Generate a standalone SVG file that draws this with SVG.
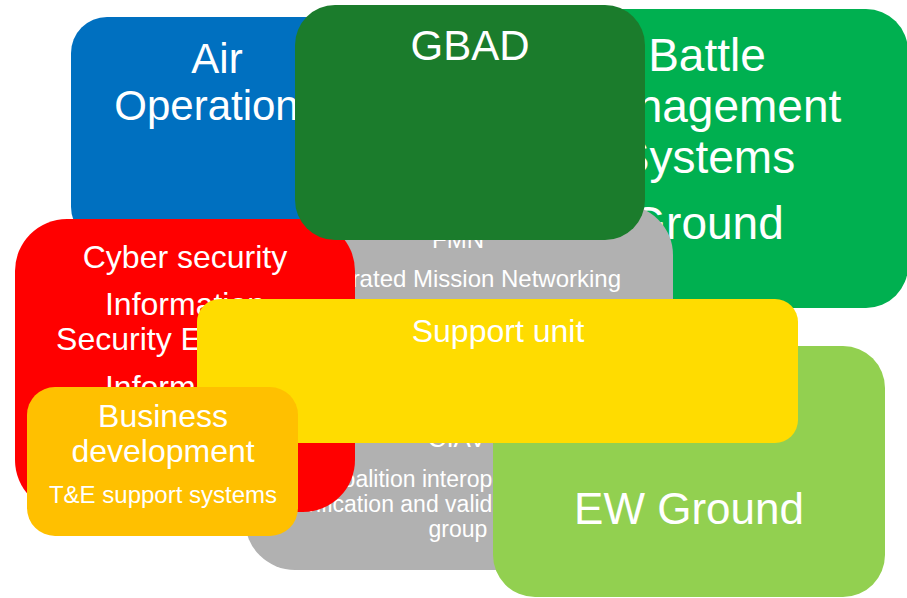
<svg xmlns="http://www.w3.org/2000/svg" width="907" height="598" viewBox="0 0 907 598">
<style>
text{font-family:"Liberation Sans",Arial,sans-serif;fill:#ffffff;text-anchor:middle}
.t46{font-size:46px}.t44{font-size:44px}.t42{font-size:42px}.t32{font-size:32px}.t24{font-size:24px}.t23{font-size:23px}.t26{font-size:26px}
.s{text-anchor:start}
</style>
<rect width="907" height="598" fill="#ffffff"/>
<g id="battle-management">
<rect x="507" y="9" width="401" height="299" rx="42" fill="#00B050"/>
<text class="t46" x="707" y="71">Battle</text>
<text class="t46" x="707" y="122">Management</text>
<text class="t46" x="707" y="173">Systems</text>
<text class="t46" x="707" y="239">Ground</text>
</g>
<g id="fmn-ciav">
<rect x="245" y="205" width="428" height="365" rx="50" fill="#B1B1B1"/>
<text class="t24" x="458" y="248">FMN</text>
<text class="t24" x="459" y="287">Federated Mission Networking</text>
<text class="t26" x="457" y="447">CIAV</text>
<text class="t23 s" x="326" y="487">Coalition interoperability</text>
<text class="t23 s" x="284" y="512">verification and validation</text>
<text class="t23" x="458" y="537">group</text>
</g>
<g id="air-operations">
<rect x="71" y="17" width="292" height="226" rx="36" fill="#0070C0"/>
<text class="t42" x="217" y="73">Air</text>
<text class="t42" x="217" y="120">Operations</text>
</g>
<g id="cyber-security">
<rect x="15" y="219" width="340" height="293" rx="52" fill="#FF0000"/>
<text class="t32" x="185" y="268">Cyber security</text>
<text class="t32" x="185" y="315">Information</text>
<text class="t32" x="185" y="350">Security Expertise</text>
<text class="t32" x="185" y="398">Information</text>
</g>
<g id="gbad">
<rect x="295" y="5" width="350" height="235" rx="40" fill="#1B7C2C"/>
<text class="t42" x="470" y="60">GBAD</text>
</g>
<g id="ew-ground">
<rect x="493" y="346" width="392" height="251" rx="42" fill="#92D050"/>
<text class="t44" x="689" y="524">EW Ground</text>
</g>
<g id="support-unit">
<rect x="197" y="299" width="601" height="144" rx="23" fill="#FFDC00"/>
<text class="t32" x="498" y="342">Support unit</text>
</g>
<g id="business-development">
<rect x="27" y="387" width="271" height="149" rx="28" fill="#FFC000"/>
<text class="t32" x="163" y="427">Business</text>
<text class="t32" x="163" y="462">development</text>
<text class="t24" x="163" y="503">T&amp;E support systems</text>
</g>
</svg>
